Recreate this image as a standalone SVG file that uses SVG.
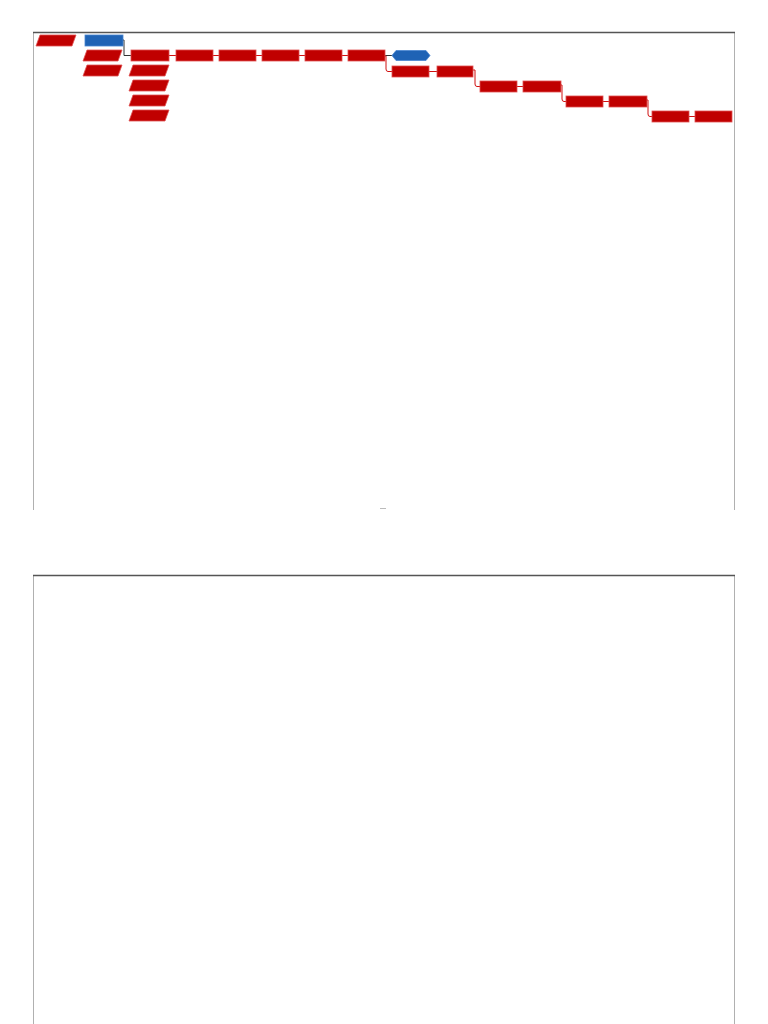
<svg xmlns="http://www.w3.org/2000/svg" width="768" height="1024" viewBox="0 0 768 1024">
<style>
.r{fill:#c00000;stroke:#e05050;stroke-width:0.8}
.b{fill:#1f63b5;stroke:#4a86d0;stroke-width:0.8}
.c{fill:none;stroke:#d01010;stroke-width:1}
.d{fill:none;stroke:#333;stroke-width:1}
.fs{stroke:#b0b0b0;stroke-width:1;fill:none}
.ft{stroke:#555;stroke-width:1.5;fill:none}
</style>
<rect width="768" height="1024" fill="#fff"/>
<g id="page1">
<path class="fs" d="M33.5,32 V510 M734.5,32 V510"/>
<path class="ft" d="M33,32.5 H735"/>
<line x1="380" y1="508.5" x2="386" y2="508.5" stroke="#bbb" stroke-width="1"/>
</g>
<g id="page2">
<path class="fs" d="M33.5,575 V1024 M734.5,575 V1024"/>
<path class="ft" d="M33,575.5 H735"/>
</g>
<g id="connectors">
<path class="d" d="M123,40 H124 V55.5 H131"/>
<path class="c" d="M169,55.5 H176 M213,55.5 H219 M256,55.5 H262 M299,55.5 H305 M342,55.5 H348"/>
<path class="d" d="M385,55.5 H392"/>
<path class="c" d="M385,56 H386 V69 Q386,71.5 388,71.5 H392"/>
<path class="c" d="M429,71.5 H437"/>
<path class="c" d="M473,70 H475 V84 Q475,86.5 477,86.5 H480"/>
<path class="c" d="M517,86.5 H523"/>
<path class="c" d="M561,85 H562 V99 Q562,101.5 564,101.5 H566"/>
<path class="c" d="M603,101.5 H609"/>
<path class="c" d="M647,100 H648 V114 Q648,116.5 650,116.5 H652"/>
<path class="c" d="M689,116.5 H695"/>
</g>
<g id="n0"><polygon class="r" points="40,35 76,35 72,46 36,46"/></g>
<g id="n1"><rect class="b" x="85" y="35" width="38" height="11"/></g>
<g id="n2"><polygon class="r" points="87,50 122,50 118,61 83,61"/></g>
<g id="n3"><polygon class="r" points="87,65 122,65 118,76 83,76"/></g>
<g id="n4"><rect class="r" x="131" y="50" width="38" height="11"/></g>
<g id="n5"><polygon class="r" points="133,65 169,65 165,76 129,76"/></g>
<g id="n6"><polygon class="r" points="133,80 169,80 165,91 129,91"/></g>
<g id="n7"><polygon class="r" points="133,95 169,95 165,106 129,106"/></g>
<g id="n8"><polygon class="r" points="133,110 169,110 165,121 129,121"/></g>
<g id="n9"><rect class="r" x="176" y="50" width="37" height="11"/></g>
<g id="n10"><rect class="r" x="219" y="50" width="37" height="11"/></g>
<g id="n11"><rect class="r" x="262" y="50" width="37" height="11"/></g>
<g id="n12"><rect class="r" x="305" y="50" width="37" height="11"/></g>
<g id="n13"><rect class="r" x="348" y="50" width="37" height="11"/></g>
<g id="n14"><polygon class="b" points="396,50.5 426,50.5 430,55.5 426,60.5 396,60.5 392,55.5"/></g>
<g id="n15"><rect class="r" x="392" y="66" width="37" height="11"/></g>
<g id="n16"><rect class="r" x="437" y="66" width="36" height="11"/></g>
<g id="n17"><rect class="r" x="480" y="81" width="37" height="11"/></g>
<g id="n18"><rect class="r" x="523" y="81" width="38" height="11"/></g>
<g id="n19"><rect class="r" x="566" y="96" width="37" height="11"/></g>
<g id="n20"><rect class="r" x="609" y="96" width="38" height="11"/></g>
<g id="n21"><rect class="r" x="652" y="111" width="37" height="11"/></g>
<g id="n22"><rect class="r" x="695" y="111" width="37" height="11"/></g>
</svg>
